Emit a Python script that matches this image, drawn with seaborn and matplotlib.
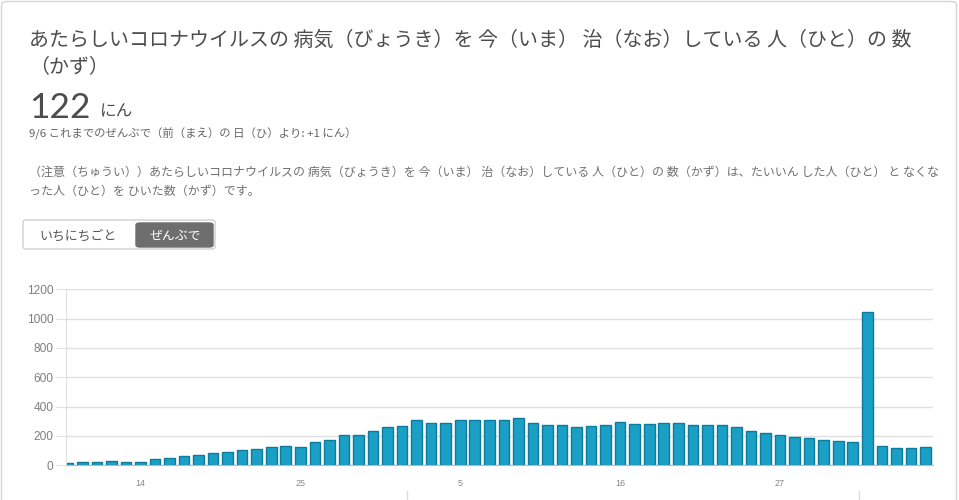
import matplotlib
matplotlib.use("Agg")
import matplotlib.pyplot as plt
from matplotlib.patches import FancyBboxPatch
from matplotlib.lines import Line2D
import seaborn as sns
import pandas as pd

# data (7/9 .. 9/6)
dates = pd.date_range("2020-07-09", "2020-09-06")
values = [16, 20, 23, 30, 25, 25, 41, 50, 65, 70,
          86, 91, 102, 114, 127, 133, 124, 158, 170, 204,
          204, 234, 264, 267, 311, 286, 286, 307, 307, 307,
          307, 320, 286, 275, 273, 264, 270, 277, 293, 280,
          281, 286, 286, 275, 275, 275, 260, 232, 221, 206,
          193, 183, 174, 164, 157, 1043, 135, 118, 121, 122]
tick_pos = [5, 16, 27, 38, 49]
y_ticks = [0, 200, 400, 600, 800, 1000, 1200]

title1 = "あたらしいコロナウイルスの 病気（びょうき）を 今（いま） 治（なお）している 人（ひと）の 数"
title2 = "（かず）"
big_num = "122"
big_unit = "にん"
sub = "9/6 これまでのぜんぶで（前（まえ）の 日（ひ）より: +1 にん）"
note1 = "（注意（ちゅうい））あたらしいコロナウイルスの 病気（びょうき）を 今（いま） 治（なお）している 人（ひと）の 数（かず）は、たいいん した人（ひと） と なくな"
note2 = "った人（ひと）を ひいた数（かず）です。"
btn_off = "いちにちごと"
btn_on = "ぜんぶで"

df = pd.DataFrame({"date": [d.strftime("%m/%d") for d in dates], "value": values})

sns.set_style("white")
plt.rcParams["font.family"] = ["Noto Sans CJK JP", "DejaVu Sans"]

W, H = 959, 500
fig = plt.figure(figsize=(W / 100, H / 100), dpi=100)


def fx(x):
    return x / W


def fy(y):
    return 1 - y / H


# card (behind everything)
fig.add_artist(FancyBboxPatch((fx(1.5), fy(520)), fx(955), 518.5 / H,
                              boxstyle="round,pad=0,rounding_size=0.006",
                              transform=fig.transFigure, fc="white", ec="#d6d6d6", lw=1, zorder=-10))

# header text
fig.text(fx(29), fy(40), title1, fontsize=14.4, color="#4d4d4d", va="center", ha="left")
fig.text(fx(29), fy(68), title2, fontsize=14.4, color="#4d4d4d", va="center", ha="left")
fig.text(fx(29), fy(108), big_num, fontsize=25.5, color="#4d4d4d", va="center", ha="left",
         family=["Lato", "DejaVu Sans"])
fig.text(fx(100), fy(112), big_unit, fontsize=12, color="#4d4d4d", va="center", ha="left")
fig.text(fx(29), fy(134), sub, fontsize=8.2, color="#666666", va="center", ha="left")
fig.text(fx(29), fy(172), note1, fontsize=8.65, color="#707070", va="center", ha="left")
fig.text(fx(29), fy(191), note2, fontsize=8.65, color="#707070", va="center", ha="left")

# toggle buttons
fig.add_artist(FancyBboxPatch((fx(23), fy(249)), fx(192), 29 / H,
                              boxstyle="round,pad=0,rounding_size=0.004",
                              transform=fig.transFigure, fc="white", ec="#d0d0d0", lw=1))
fig.add_artist(FancyBboxPatch((fx(136), fy(247)), fx(77), 24 / H,
                              boxstyle="round,pad=0,rounding_size=0.004",
                              transform=fig.transFigure, fc="#6e6e6e", ec="#6e6e6e", lw=1))
fig.text(fx(78), fy(236), btn_off, fontsize=9.3, color="#555555", va="center", ha="center")
fig.text(fx(175), fy(236), btn_on, fontsize=9.3, color="white", va="center", ha="center")

# month separator marks under the axis
for xm in [407, 859]:
    fig.add_artist(Line2D([fx(xm), fx(xm)], [fy(491), fy(500)], transform=fig.transFigure,
                          color="#dddddd", lw=1))

# chart
ax = fig.add_axes([fx(66), fy(465.3), 866.7 / W, 176 / H])
sns.barplot(data=df, x="date", y="value", ax=ax, color="#1aa0c6", saturation=1,
            width=0.73, edgecolor="#0e7a9c", linewidth=1)
ax.set_xlim(-0.12, 59.5)
ax.set_ylim(0, 1200)
ax.set_yticks(y_ticks)
ax.set_yticklabels([str(v) for v in y_ticks], family=["Liberation Sans", "DejaVu Sans"])
ax.set_xticks(tick_pos)
ax.set_xticklabels([str(dates[i].day) for i in tick_pos], family=["Liberation Sans", "DejaVu Sans"])
ax.set_xlabel("")
ax.set_ylabel("")
ax.patch.set_alpha(0)
ax.grid(axis="y", color="#e0e0e0", lw=1)
ax.set_axisbelow(True)
for s in ["top", "right"]:
    ax.spines[s].set_visible(False)
ax.spines["left"].set_color("#e0e0e0")
ax.spines["bottom"].set_color("#bbbbbb")
ax.tick_params(axis="y", length=7, color="#e0e0e0", labelcolor="#808080", labelsize=8.6, pad=2, left=True)
ax.tick_params(axis="x", length=0, labelcolor="#888888", labelsize=6.5, pad=10)

fig.savefig("out.png", dpi=100, facecolor="white")
